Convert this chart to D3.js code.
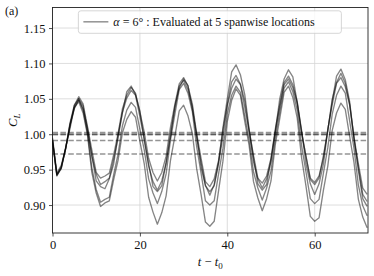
<!DOCTYPE html>
<html lang="en">
<head>
  <meta charset="UTF-8">
  <title>Lift coefficient at 5 spanwise locations</title>
  <script src="https://d3js.org/d3.v7.min.js"></script>
  <style>
    body {
      margin: 0;
      padding: 0;
      background: #fff;
    }
    svg text {
      font-family: "Liberation Serif", "DejaVu Serif", serif;
      fill: #111;
    }
    .grid line {
      stroke: #d4d4d4;
      stroke-width: 0.8;
    }
  </style>
</head>
<body>
  <div id="vis"></div>

  <script>
    // sample times t - t0
    const times = d3.range(0, 73);

    // C_L at the 5 spanwise locations (one value per time unit)
    const spanA = [
      0.992, 0.941, 0.953, 0.979, 1.016, 1.041, 1.053,
      1.043, 1.011, 0.978, 0.946, 0.938, 0.941,
      0.945, 0.971, 1.001, 1.036, 1.055, 1.066,
      1.058, 1.031, 1.003, 0.966, 0.946, 0.934,
      0.946, 0.969, 1.010, 1.042, 1.071, 1.080,
      1.068, 1.043, 1.001, 0.966, 0.933, 0.926,
      0.937, 0.963, 1.006, 1.042, 1.074, 1.083,
      1.071, 1.047, 1.005, 0.970, 0.938, 0.931,
      0.941, 0.966, 1.008, 1.042, 1.073, 1.082,
      1.070, 1.046, 1.003, 0.969, 0.936, 0.929,
      0.938, 0.970, 1.005, 1.049, 1.073, 1.086,
      1.072, 1.043, 0.994, 0.953, 0.915, 0.905
    ];
    const spanB = [
      0.995, 0.945, 0.956, 0.980, 1.013, 1.036, 1.048,
      1.036, 1.009, 0.969, 0.943, 0.929, 0.933,
      0.938, 0.965, 0.994, 1.031, 1.051, 1.062,
      1.055, 1.025, 0.994, 0.955, 0.933, 0.921,
      0.934, 0.959, 1.001, 1.036, 1.068, 1.076,
      1.063, 1.039, 0.995, 0.960, 0.927, 0.919,
      0.927, 0.960, 0.996, 1.040, 1.065, 1.078,
      1.070, 1.038, 1.004, 0.961, 0.937, 0.924,
      0.937, 0.961, 1.004, 1.038, 1.070, 1.078,
      1.066, 1.043, 1.002, 0.969, 0.938, 0.932,
      0.941, 0.966, 1.007, 1.041, 1.072, 1.080,
      1.067, 1.041, 0.996, 0.958, 0.924, 0.915
    ];
    const spanC = [
      0.990, 0.942, 0.951, 0.980, 1.011, 1.041, 1.050,
      1.040, 1.005, 0.970, 0.934, 0.926, 0.923,
      0.937, 0.958, 0.999, 1.030, 1.060, 1.068,
      1.056, 1.033, 0.991, 0.958, 0.926, 0.919,
      0.927, 0.960, 0.996, 1.040, 1.065, 1.078,
      1.069, 1.035, 0.999, 0.953, 0.928, 0.914,
      0.929, 0.959, 1.009, 1.050, 1.088, 1.098,
      1.084, 1.056, 1.007, 0.967, 0.930, 0.921,
      0.929, 0.965, 1.004, 1.050, 1.078, 1.091,
      1.081, 1.045, 1.006, 0.958, 0.930, 0.915,
      0.930, 0.958, 1.006, 1.046, 1.082, 1.092,
      1.077, 1.046, 0.993, 0.949, 0.909, 0.898
    ];
    const spanD = [
      0.992, 0.943, 0.954, 0.979, 1.014, 1.038, 1.050,
      1.034, 1.002, 0.953, 0.922, 0.904, 0.908,
      0.911, 0.943, 0.972, 1.012, 1.034, 1.045,
      1.038, 1.007, 0.978, 0.937, 0.917, 0.902,
      0.919, 0.944, 0.992, 1.028, 1.063, 1.072,
      1.058, 1.032, 0.982, 0.945, 0.906, 0.900,
      0.906, 0.944, 0.980, 1.029, 1.055, 1.068,
      1.059, 1.026, 0.992, 0.947, 0.924, 0.907,
      0.924, 0.948, 0.995, 1.031, 1.065, 1.074,
      1.060, 1.034, 0.984, 0.947, 0.909, 0.902,
      0.908, 0.945, 0.981, 1.028, 1.055, 1.068,
      1.058, 1.019, 0.980, 0.928, 0.899, 0.885
    ];
    const spanE = [
      0.990, 0.943, 0.952, 0.981, 1.008, 1.038, 1.046,
      1.030, 0.999, 0.946, 0.917, 0.898, 0.903,
      0.906, 0.936, 0.963, 1.002, 1.021, 1.032,
      1.024, 0.990, 0.958, 0.911, 0.890, 0.873,
      0.889, 0.913, 0.963, 0.997, 1.033, 1.041,
      1.026, 1.001, 0.951, 0.915, 0.876, 0.870,
      0.877, 0.920, 0.962, 1.018, 1.048, 1.064,
      1.055, 1.018, 0.984, 0.933, 0.910, 0.892,
      0.909, 0.934, 0.986, 1.022, 1.059, 1.068,
      1.052, 1.023, 0.967, 0.927, 0.884, 0.877,
      0.882, 0.921, 0.955, 1.005, 1.030, 1.044,
      1.035, 0.997, 0.960, 0.908, 0.883, 0.868
    ];
    const spanSeries = [spanA, spanB, spanC, spanD, spanE];

    // time-averaged C_L of each location (dashed lines)
    const spanMeans = [1.0025, 1.0005, 0.9993, 0.9913, 0.9720];

    const xTicks = [0, 20, 40, 60];
    const yTicks = [0.90, 0.95, 1.00, 1.05, 1.10, 1.15];
    const legendLabel = " : Evaluated at 5 spanwise locations";

    const width = 374, height = 276;
    const margin = { top: 7.5, right: 6, bottom: 43, left: 52.5 };
    const innerW = width - margin.left - margin.right;
    const innerH = height - margin.top - margin.bottom;

    const svg = d3.select("#vis").append("svg")
      .attr("width", width)
      .attr("height", height);

    const x = d3.scaleLinear().domain([0, 72.2]).range([0, innerW]);
    const y = d3.scaleLinear().domain([0.8605, 1.179]).range([innerH, 0]);

    const g = svg.append("g")
      .attr("transform", `translate(${margin.left},${margin.top})`);

    svg.append("clipPath").attr("id", "clip")
      .append("rect")
      .attr("x", margin.left).attr("y", margin.top)
      .attr("width", innerW).attr("height", innerH);

    // grid
    g.append("g").attr("class", "grid")
      .selectAll("line")
      .data(xTicks)
      .enter().append("line")
      .attr("x1", d => x(d)).attr("x2", d => x(d))
      .attr("y1", 0).attr("y2", innerH);
    g.append("g").attr("class", "grid")
      .selectAll("line")
      .data(yTicks)
      .enter().append("line")
      .attr("x1", 0).attr("x2", innerW)
      .attr("y1", d => y(d)).attr("y2", d => y(d));

    // the clip rect is in svg coords, so wrap lines in an untransformed group
    const lines = svg.append("g").attr("clip-path", "url(#clip)")
      .append("g").attr("transform", `translate(${margin.left},${margin.top})`);

    const line = d3.line()
      .x((d, i) => x(times[i]))
      .y(d => y(d));

    lines.selectAll("path.span")
      .data(spanSeries)
      .enter().append("path")
      .attr("class", "span")
      .attr("d", line)
      .attr("fill", "none")
      .attr("stroke", "#000")
      .attr("stroke-opacity", 0.48)
      .attr("stroke-width", 1.35)
      .attr("stroke-linejoin", "round");

    lines.selectAll("line.mean")
      .data(spanMeans)
      .enter().append("line")
      .attr("class", "mean")
      .attr("x1", 0).attr("x2", innerW)
      .attr("y1", d => y(d)).attr("y2", d => y(d))
      .attr("stroke", "#000")
      .attr("stroke-opacity", 0.42)
      .attr("stroke-width", 1.5)
      .attr("stroke-dasharray", "5.5,2.4");

    // axes
    const xAxis = g.append("g")
      .attr("transform", `translate(0,${innerH})`)
      .call(d3.axisBottom(x).tickValues(xTicks).tickFormat(d3.format("d"))
        .tickSize(3.5).tickPadding(3.5));
    const yAxis = g.append("g")
      .call(d3.axisLeft(y).tickValues(yTicks).tickFormat(d3.format(".2f"))
        .tickSize(3.5).tickPadding(3.5));
    [xAxis, yAxis].forEach(a => {
      a.select(".domain").remove();
      a.selectAll("line").attr("stroke", "#222").attr("stroke-width", 0.8);
      a.selectAll("text")
        .style("font-family", "'Liberation Serif', serif")
        .style("font-size", "12.5px")
        .attr("fill", "#111");
    });

    // frame
    g.append("rect")
      .attr("width", innerW).attr("height", innerH)
      .attr("fill", "none")
      .attr("stroke", "#222")
      .attr("stroke-width", 0.9);

    // legend
    const leg = g.append("g").attr("transform", `translate(${x(5.92)},${y(1.1743)})`);
    leg.append("rect")
      .attr("width", 263).attr("height", 22.5)
      .attr("rx", 2.5)
      .attr("fill", "#fff").attr("fill-opacity", 0.8)
      .attr("stroke", "#ccc").attr("stroke-width", 0.8);
    leg.append("line")
      .attr("x1", 5).attr("x2", 30)
      .attr("y1", 11).attr("y2", 11)
      .attr("stroke", "#000").attr("stroke-opacity", 0.48)
      .attr("stroke-width", 1.35);
    const legText = leg.append("text")
      .attr("x", 35).attr("y", 15.2)
      .style("font-size", "12px");
    legText.append("tspan").style("font-style", "italic").text("α");
    legText.append("tspan").text(" = 6°");
    legText.append("tspan").text(legendLabel);

    // axis labels
    const xl = svg.append("text")
      .attr("x", margin.left + innerW / 2)
      .attr("y", 266)
      .attr("text-anchor", "middle")
      .style("font-size", "12.5px");
    xl.append("tspan").style("font-style", "italic").text("t");
    xl.append("tspan").text(" − ");
    xl.append("tspan").style("font-style", "italic").text("t");
    xl.append("tspan").attr("dy", 2.5).style("font-size", "9px").text("0");

    const yl = svg.append("text")
      .attr("transform", `translate(17,${margin.top + innerH / 2}) rotate(-90)`)
      .attr("text-anchor", "middle")
      .style("font-size", "12.5px");
    yl.append("tspan").style("font-style", "italic").text("C");
    yl.append("tspan").attr("dy", 2.5).style("font-style", "italic").style("font-size", "9px").text("L");

    svg.append("text")
      .attr("x", 5).attr("y", 15)
      .style("font-size", "12px")
      .text("(a)");
  </script>
</body>
</html>
